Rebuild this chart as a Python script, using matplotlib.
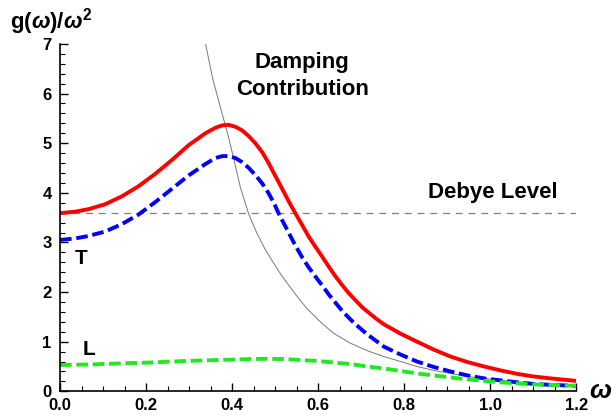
import numpy as np
import matplotlib
matplotlib.use('Agg')
import matplotlib.pyplot as plt
from matplotlib.ticker import MultipleLocator

plt.rcParams['font.family'] = 'Liberation Sans'
plt.rcParams['font.weight'] = 'bold'
plt.rcParams['mathtext.fontset'] = 'custom'
plt.rcParams['mathtext.rm'] = 'Liberation Sans:bold'
plt.rcParams['mathtext.it'] = 'Liberation Sans:bold:italic'

# total (red, solid)
x_tot = [0.0, 0.035, 0.066, 0.105, 0.144, 0.182, 0.221, 0.260, 0.299, 0.338, 0.361,
         0.377, 0.392, 0.408, 0.423, 0.439, 0.454, 0.470, 0.485, 0.500, 0.516, 0.531,
         0.547, 0.563, 0.578, 0.594, 0.609, 0.625, 0.640, 0.656, 0.671, 0.703, 0.734,
         0.753, 0.792, 0.830, 0.869, 0.908, 0.947, 0.986, 1.025, 1.064, 1.100, 1.141, 1.2]
y_tot = [3.59, 3.62, 3.67, 3.77, 3.93, 4.13, 4.38, 4.66, 4.96, 5.20, 5.31,
         5.36, 5.37, 5.33, 5.26, 5.14, 5.00, 4.82, 4.60, 4.35, 4.09, 3.84,
         3.59, 3.35, 3.12, 2.91, 2.72, 2.51, 2.32, 2.14, 1.98, 1.69, 1.47,
         1.35, 1.16, 1.00, 0.84, 0.70, 0.59, 0.50, 0.42, 0.35, 0.30, 0.26, 0.21]

# transverse (blue, dashed)
x_T = [0.0, 0.035, 0.066, 0.105, 0.144, 0.182, 0.221, 0.260, 0.299, 0.338, 0.361,
       0.377, 0.392, 0.408, 0.423, 0.439, 0.454, 0.470, 0.485, 0.497, 0.508, 0.532,
       0.547, 0.563, 0.578, 0.594, 0.609, 0.625, 0.656, 0.683, 0.714, 0.753, 0.792,
       0.830, 0.869, 0.908, 0.947, 0.986, 1.025, 1.064, 1.100, 1.141, 1.2]
y_T = [3.05, 3.08, 3.13, 3.22, 3.37, 3.56, 3.81, 4.08, 4.35, 4.58, 4.70,
       4.74, 4.74, 4.70, 4.62, 4.50, 4.36, 4.19, 3.99, 3.80, 3.59, 3.19,
       2.94, 2.70, 2.50, 2.31, 2.14, 1.95, 1.62, 1.38, 1.15, 0.90, 0.74,
       0.60, 0.49, 0.40, 0.32, 0.26, 0.22, 0.18, 0.15, 0.13, 0.11]

# longitudinal (green, dashed)
x_L = [0.0, 0.066, 0.132, 0.210, 0.287, 0.365, 0.442, 0.480, 0.520, 0.560, 0.600,
       0.636, 0.675, 0.714, 0.753, 0.792, 0.830, 0.869, 0.908, 0.947, 0.986, 1.025,
       1.064, 1.100, 1.141, 1.2]
y_L = [0.53, 0.54, 0.56, 0.58, 0.61, 0.63, 0.65, 0.655, 0.65, 0.63, 0.61,
       0.58, 0.55, 0.50, 0.46, 0.41, 0.36, 0.32, 0.28, 0.24, 0.21, 0.18,
       0.16, 0.14, 0.13, 0.11]

# damping contribution (thin gray)
x_d = [0.336, 0.355, 0.373, 0.390, 0.403, 0.419, 0.438, 0.457, 0.477, 0.497, 0.516,
       0.535, 0.555, 0.575, 0.609, 0.636, 0.675, 0.714, 0.753, 0.792, 0.830, 0.869,
       0.908, 0.947, 0.986, 1.025, 1.064, 1.100, 1.141, 1.2]
y_d = [7.1, 6.3, 5.72, 5.18, 4.72, 4.12, 3.59, 3.20, 2.86, 2.58, 2.32,
       2.10, 1.87, 1.66, 1.37, 1.17, 0.97, 0.82, 0.70, 0.60, 0.50, 0.42,
       0.36, 0.30, 0.26, 0.22, 0.19, 0.16, 0.14, 0.11]

debye = 3.6

fig = plt.figure(figsize=(6.13, 4.17), dpi=100)
ax = fig.add_axes([0.0979, 0.0616, 0.842, 0.833])

ax.plot([0, 1.2], [debye, debye], color='#808080', lw=0.9, dashes=(5.6, 4.6))
ax.plot(x_d, y_d, color='#787878', lw=0.7)
ax.plot(x_tot, y_tot, color='#ff0000', lw=2.8, solid_joinstyle='round')
ax.plot(x_T, y_T, color='#0000ff', lw=2.8, dashes=(3, 1.2))
ax.plot(x_L, y_L, color='#22e822', lw=2.8, dashes=(3, 1.2))

ax.set_xlim(0, 1.2)
ax.set_ylim(0, 7)

for s in ['top', 'right']:
    ax.spines[s].set_visible(False)
for s in ['left', 'bottom']:
    ax.spines[s].set_linewidth(1.2)

ax.xaxis.set_major_locator(MultipleLocator(0.2))
ax.xaxis.set_minor_locator(MultipleLocator(0.05))
ax.yaxis.set_major_locator(MultipleLocator(1))
ax.yaxis.set_minor_locator(MultipleLocator(0.2))
ax.xaxis.set_major_formatter(plt.FuncFormatter(lambda v, p: f'{v:.1f}'))
ax.tick_params(which='major', direction='in', length=6, width=1.0, labelsize=12)
ax.tick_params(axis='x', which='major', pad=5)
ax.tick_params(axis='y', which='major', pad=6)
ax.tick_params(which='minor', direction='in', length=3.5, width=0.8)
for lab in ax.get_xticklabels() + ax.get_yticklabels():
    lab.set_fontweight('bold')

ax.text(0.05, 2.67, 'T', fontsize=15, fontweight='bold', ha='center', va='center')
ax.text(0.068, 0.85, 'L', fontsize=15, fontweight='bold', ha='center', va='center')
ax.text(0.563, 6.36, 'Damping\nContribution', fontsize=16, fontweight='bold',
        ha='center', va='center', linespacing=1.35)
ax.text(1.006, 4.0, 'Debye Level', fontsize=16, fontweight='bold', ha='center', va='center')

fig.text(0.016, 0.932, r'$\mathrm{g}(\omega)/\omega^2$', fontsize=16, ha='left', va='baseline')
fig.text(0.980, 0.062, r'$\omega$', fontsize=19, ha='center', va='center')

fig.savefig('out.png', dpi=100)
